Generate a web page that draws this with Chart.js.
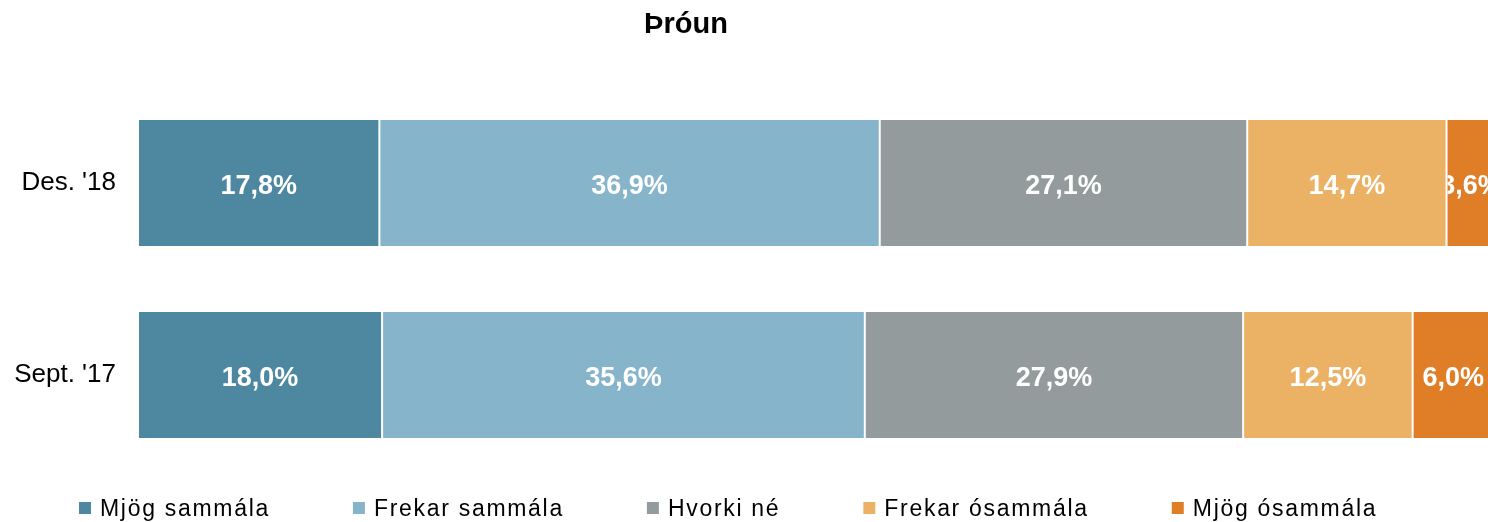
<!DOCTYPE html>
<html>
<head>
<meta charset="utf-8">
<script src="https://cdn.jsdelivr.net/npm/chart.js@4.4.0/dist/chart.umd.min.js"></script>
<style>
    html, body { margin: 0; padding: 0; background: #fff; overflow: hidden; }
    #wrap { width: 1494px; height: 522px; }
</style>
</head>
<body>
<div id="wrap"><canvas id="myChart" width="1494" height="522"></canvas></div>
<script>
const chartTitle = 'Þróun';
const categories = ["Des. '18", "Sept. '17"];
const seriesNames = ['Mjög sammála', 'Frekar sammála', 'Hvorki né', 'Frekar ósammála', 'Mjög ósammála'];

// percentages, one array per answer
const mjogSammala = [17.8, 18.0];
const frekarSammala = [36.9, 35.6];
const hvorkiNe = [27.1, 27.9];
const frekarOsammala = [14.7, 12.5];
const mjogOsammala = [3.6, 6.0];

const seriesColors = ['#4e87a0', '#86b5cb', '#949b9d', '#ebb266', '#e07e28'];

const fontFamily = '"Liberation Sans", Arial, sans-serif';

let fmt = (v) => v.toFixed(1).replace('.', ',') + '%';

// white value labels in the middle of every segment
const barLabels = {
    id: 'barLabels',
    afterDatasetsDraw(chart) {
        const ctx = chart.ctx;
        chart.data.datasets.forEach((ds, i) => {
            const meta = chart.getDatasetMeta(i);
            meta.data.forEach((bar, j) => {
                const p = bar.getProps(['x', 'base', 'y', 'height'], true);
                const left = Math.min(p.x, p.base);
                const w = Math.abs(p.x - p.base);
                ctx.save();
                ctx.beginPath();
                ctx.rect(left + 1, p.y - p.height / 2, w - 2, p.height);
                ctx.clip();
                ctx.fillStyle = '#ffffff';
                ctx.font = 'bold 27px ' + fontFamily;
                ctx.textAlign = 'center';
                ctx.textBaseline = 'alphabetic';
                ctx.fillText(fmt(ds.data[j]), left + w / 2, p.y + 11);
                ctx.restore();
            });
        });
    }
};

// title and legend the way the original (excel) places them
const titleAndLegend = {
    id: 'titleAndLegend',
    afterDraw(chart) {
        const ctx = chart.ctx;
        ctx.save();
        ctx.fillStyle = '#000000';
        ctx.font = 'bold 29px ' + fontFamily;
        ctx.textAlign = 'center';
        ctx.textBaseline = 'alphabetic';
        ctx.fillText(chartTitle, 686, 33);

        ctx.font = '23px ' + fontFamily;
        ctx.textAlign = 'left';
        if ('letterSpacing' in ctx) ctx.letterSpacing = '1.7px';
        let x = 79;
        chart.data.datasets.forEach((ds) => {
            ctx.fillStyle = ds.backgroundColor;
            ctx.fillRect(x, 502, 12, 12);
            ctx.fillStyle = '#000000';
            ctx.fillText(ds.label, x + 21, 516);
            x += 21 + ctx.measureText(ds.label).width + 83;
        });
        ctx.restore();
    }
};

const seriesValues = [mjogSammala, frekarSammala, hvorkiNe, frekarOsammala, mjogOsammala];

const chartData = {
    labels: categories,
    datasets: seriesNames.map((name, i) => ({
        label: name,
        data: seriesValues[i],
        backgroundColor: seriesColors[i],
        borderColor: '#ffffff',
        borderWidth: { left: 1, right: 1, top: 0, bottom: 0 },
        borderSkipped: false,
        barPercentage: 0.656,
        categoryPercentage: 1
    }))
};

const config = {
    type: 'bar',
    data: chartData,
    plugins: [barLabels, titleAndLegend],
    options: {
        indexAxis: 'y',
        responsive: false,
        animation: false,
        devicePixelRatio: 1,
        layout: {
            padding: { top: 87, bottom: 51, left: 0, right: 0 }
        },
        plugins: {
            legend: { display: false },
            title: { display: false },
            tooltip: { enabled: false }
        },
        scales: {
            x: {
                stacked: true,
                display: false,
                min: 0,
                max: 100
            },
            y: {
                stacked: true,
                grid: { display: false, drawTicks: false },
                border: { display: false },
                ticks: {
                    color: '#000000',
                    padding: 22,
                    font: { family: fontFamily, size: 26 }
                },
                afterFit: (scale) => { scale.width = 138; }
            }
        }
    }
};

const myChart = new Chart(
    document.getElementById('myChart'),
    config
);
</script>
</body>
</html>
